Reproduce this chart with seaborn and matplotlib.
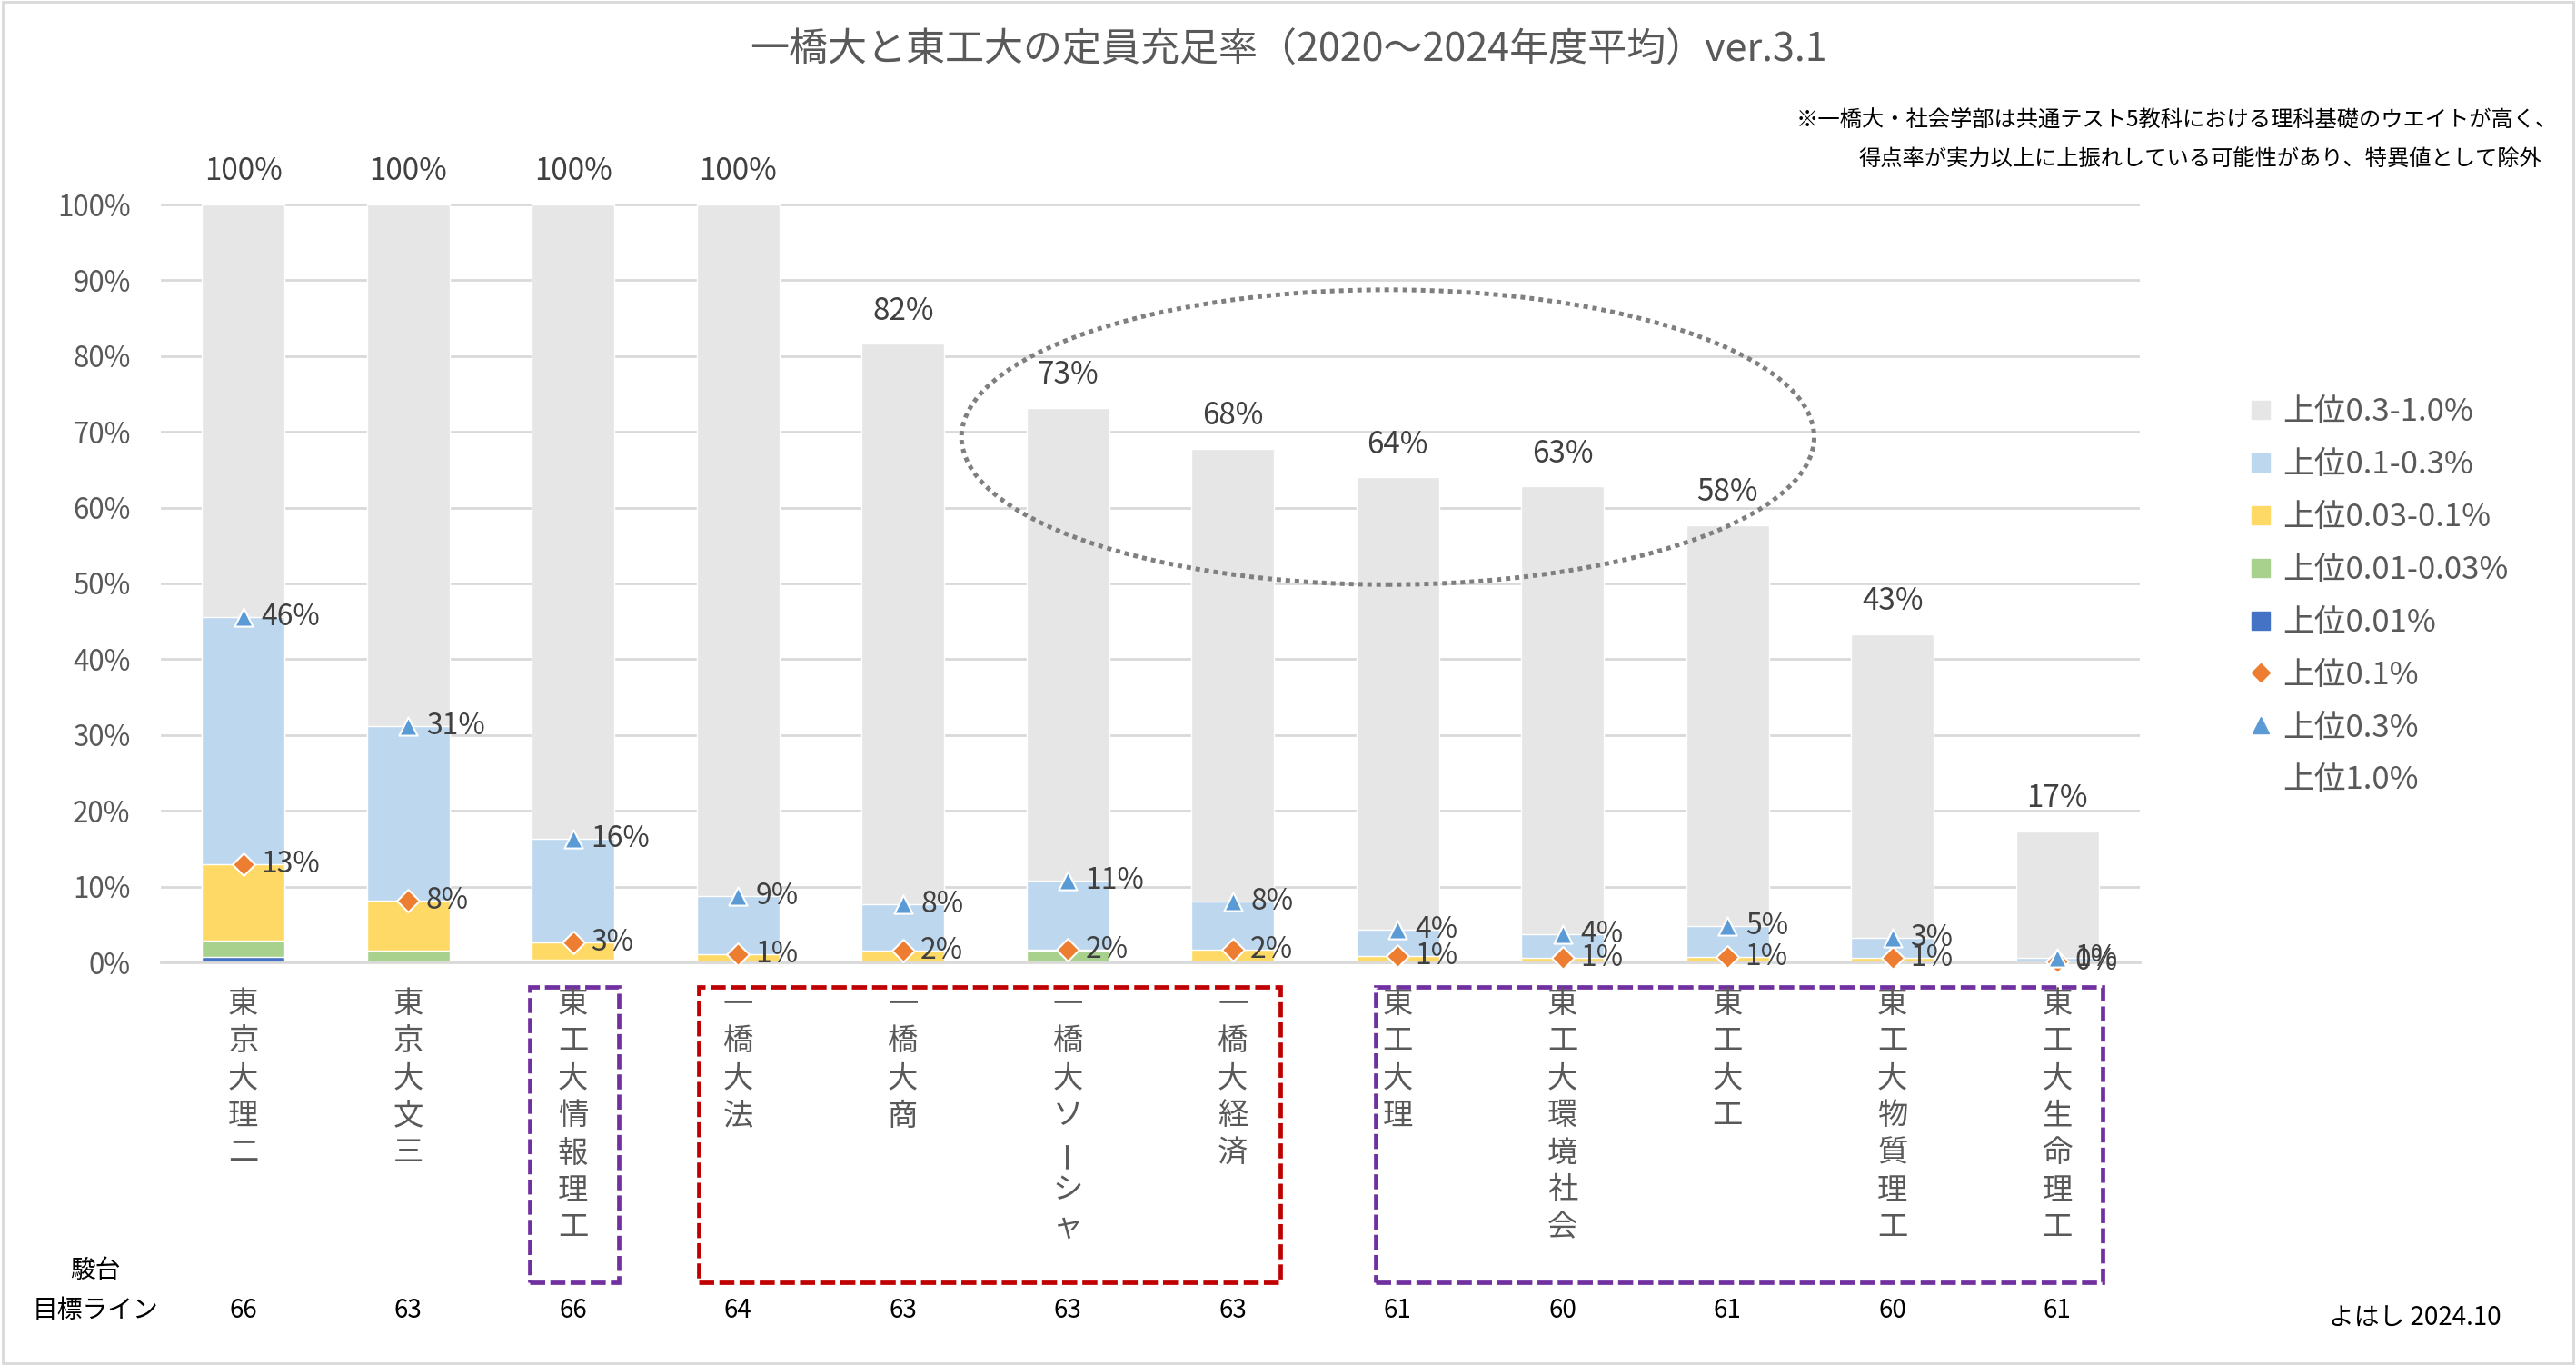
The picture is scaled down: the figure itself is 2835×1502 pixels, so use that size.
import numpy as np
import pandas as pd
import matplotlib
matplotlib.use("Agg")
import matplotlib.pyplot as plt
import seaborn as sns
from matplotlib.patches import Ellipse, Rectangle
from matplotlib.lines import Line2D
from matplotlib.ticker import PercentFormatter

# --- data (cumulative share of enrolment above each percentile, %) ---
schools = ["東京大理二", "東京大文三", "東工大情報理工", "一橋大法", "一橋大商", "一橋大ソーシャ",
           "一橋大経済", "東工大理", "東工大環境社会", "東工大工", "東工大物質理工", "東工大生命理工"]
top_001 = [0.7, 0, 0, 0, 0, 0, 0, 0, 0, 0, 0, 0]
top_003 = [2.9, 1.6, 0.3, 0, 0, 1.5, 0.1, 0, 0, 0, 0, 0]
top_01 = [13.0, 8.2, 2.6, 1.1, 1.6, 1.7, 1.7, 0.8, 0.6, 0.7, 0.6, 0.1]
top_03 = [45.6, 31.2, 16.3, 8.7, 7.7, 10.8, 8.0, 4.3, 3.7, 4.8, 3.2, 0.6]
top_10 = [100, 100, 100, 100, 81.6, 73.2, 67.8, 64.0, 62.8, 57.7, 43.3, 17.3]
target_line = [66, 63, 66, 64, 63, 63, 63, 61, 60, 61, 60, 61]

layer_labels = ["上位0.3-1.0%", "上位0.1-0.3%", "上位0.03-0.1%", "上位0.01-0.03%", "上位0.01%"]
layer_colors = ["#E7E6E6", "#BDD7EE", "#FFD966", "#A9D18E", "#4472C4"]

df = pd.DataFrame({"school": schools, "top_001": top_001, "top_003": top_003,
                   "top_01": top_01, "top_03": top_03, "top_10": top_10})
for c in ["top_001", "top_003", "top_01", "top_03", "top_10"]:
    df[c] = df[c] / 100

sns.set_theme(style="white")
plt.rcParams["font.family"] = ["Noto Sans CJK JP", "DejaVu Sans"]

TXT = "#595959"
LBL = "#404040"

fig = plt.figure(figsize=(28.35, 15.02), dpi=100)
ax = fig.add_axes([177 / 2835, 1 - 1059 / 1502, 2178 / 2835, 834 / 1502])

# overlapping bars, tallest first -> stacked look
for col, color in zip(["top_10", "top_03", "top_01", "top_003", "top_001"], layer_colors):
    sns.barplot(data=df, x="school", y=col, color=color, saturation=1, width=0.5,
                order=schools, ax=ax, zorder=2)

x = np.arange(len(schools))
ax.scatter(x, df["top_01"], marker="D", s=160, color="#ED7D31", edgecolor="white",
           linewidth=1.5, zorder=5, clip_on=False)
ax.scatter(x, df["top_03"], marker="^", s=210, color="#5B9BD5", edgecolor="white",
           linewidth=1.5, zorder=5, clip_on=False)

for i in x:
    ax.annotate(f"{top_01[i]:.0f}%", (i, df["top_01"][i]), xytext=(14, 0), textcoords="offset points",
                ha="left", va="center", fontsize=23, color=LBL, zorder=6)
    ax.annotate(f"{top_03[i]:.0f}%", (i, df["top_03"][i]), xytext=(14, 0), textcoords="offset points",
                ha="left", va="center", fontsize=23, color=LBL, zorder=6)
    ax.annotate(f"{top_10[i]:.0f}%", (i, df["top_10"][i]), xytext=(0, 26), textcoords="offset points",
                ha="center", va="center", fontsize=24, color=LBL, zorder=6, annotation_clip=False)

# axes styling
ax.set_xlim(-0.5, len(schools) - 0.5)
ax.set_ylim(0, 1)
ax.set_yticks(np.arange(0, 1.01, 0.1))
ax.yaxis.set_major_formatter(PercentFormatter(1.0, decimals=0))
ax.tick_params(axis="y", length=0, pad=24, labelsize=22.5, labelcolor=TXT)
ax.tick_params(axis="x", length=0, labelbottom=False)
ax.set_xlabel("")
ax.set_ylabel("")
ax.grid(axis="y", color="#D9D9D9", linewidth=2, zorder=0)
ax.set_axisbelow(True)
for s in ["top", "right", "left"]:
    ax.spines[s].set_visible(False)
ax.spines["bottom"].set_color("#D9D9D9")
ax.spines["bottom"].set_linewidth(2)

# vertical category labels
xtrans = ax.get_xaxis_transform()
for i, name in enumerate(schools):
    for k, ch in enumerate(name):
        rot = 90 if ch == "ー" else 0
        ax.annotate(ch, (i, 0), xycoords=xtrans, xytext=(0, -(46 + 41 * k) / 1.389),
                    textcoords="offset points", ha="center", va="center", rotation=rot,
                    fontsize=24, color=TXT, annotation_clip=False)

# dashed group boxes below the axis
boxes = [(1.737, 2.277, "#7030A0"), (2.762, 6.288, "#C00000"), (6.866, 11.274, "#7030A0")]
y_top, y_bot = (1059 - 1086) / 834, (1059 - 1411) / 834
for x0, x1, c in boxes:
    ax.add_patch(Rectangle((x0, y_bot), x1 - x0, y_top - y_bot, transform=xtrans, fill=False,
                           edgecolor=c, linewidth=3.4, linestyle=(0, (3.5, 1.2)), clip_on=False))

# dotted ellipse
ax.add_patch(Ellipse((6.94, 0.693), 5.17, 0.389, fill=False, edgecolor="#7F7F7F",
                     linewidth=3.6, linestyle=(0, (1, 1)), zorder=7, clip_on=False))

# bottom table
fig.text(105 / 2835, 1 - 1398 / 1502, "駿台", ha="center", va="center", fontsize=20, color="black")
fig.text(36 / 2835, 1 - 1442 / 1502, "目標ライン", ha="left", va="center", fontsize=20, color="black")
for i, v in enumerate(target_line):
    ax.annotate(str(v), (i, 0), xycoords=xtrans, xytext=(0, -(1442 - 1059) / 1.389),
                textcoords="offset points", ha="center", va="center", fontsize=20,
                color="black", annotation_clip=False)
fig.text(2658 / 2835, 1 - 1450 / 1502, "よはし 2024.10", ha="center", va="center",
         fontsize=20, color="black")

# title and note
fig.text(0.5, 1 - 56 / 1502, "一橋大と東工大の定員充足率（2020～2024年度平均）ver.3.1",
         ha="center", va="center", fontsize=31, color=TXT)
fig.text(2815 / 2835, 1 - 132 / 1502, "※一橋大・社会学部は共通テスト5教科における理科基礎のウエイトが高く、",
         ha="right", va="center", fontsize=17.5, color="black")
fig.text(2797 / 2835, 1 - 176 / 1502, "得点率が実力以上に上振れしている可能性があり、特異値として除外",
         ha="right", va="center", fontsize=17.5, color="black")

# legend
handles = [Line2D([], [], marker="s", linestyle="None", color=c, markersize=14) for c in layer_colors]
handles += [Line2D([], [], marker="D", linestyle="None", color="#ED7D31", markersize=10),
            Line2D([], [], marker="^", linestyle="None", color="#5B9BD5", markersize=13),
            Line2D([], [], linestyle="None")]
labels = layer_labels + ["上位0.1%", "上位0.3%", "上位1.0%"]
fig.legend(handles, labels, loc="upper left", bbox_to_anchor=(2476 / 2835, 1 - 436 / 1502),
           frameon=False, fontsize=25, labelcolor=TXT, handlelength=0.7, handletextpad=0.35,
           labelspacing=0.66, borderpad=0, borderaxespad=0)

fig.patches.append(Rectangle((0.001, 0.001), 0.998, 0.998, transform=fig.transFigure,
                             fill=False, edgecolor="#D9D9D9", linewidth=2))

fig.savefig("out.png", dpi=100)
